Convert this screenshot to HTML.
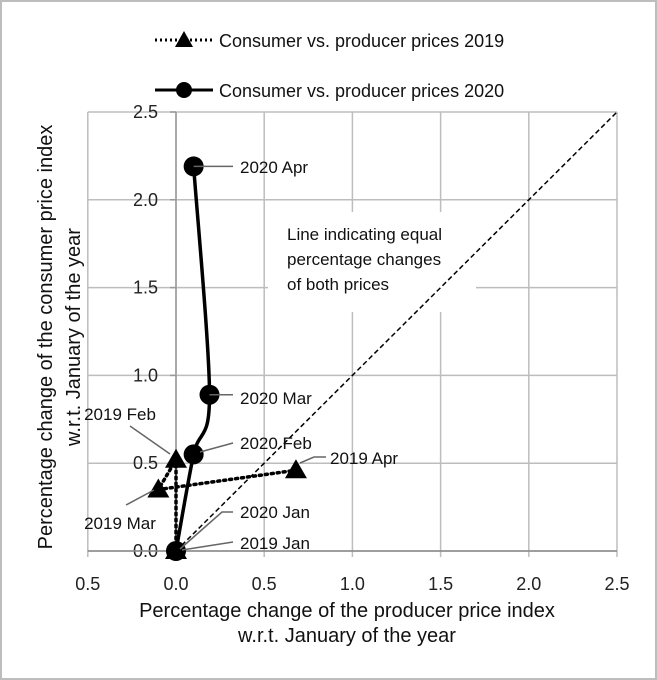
<!DOCTYPE html>
<html><head><meta charset="utf-8"><style>
body{margin:0;background:#fff}
svg{display:block;font-family:"Liberation Sans",sans-serif}
</style></head><body>
<svg id="c" width="657" height="680" viewBox="0 0 657 680">
<rect x="1" y="1" width="655" height="678" fill="#fff" stroke="#bdbdbd" stroke-width="2"/>
<g id="grid"></g>
<g id="axes"></g>
<g id="marks"></g>
<g id="labels"></g>
<g>
<g>
<line x1="155" y1="40" x2="213" y2="40" stroke="#000" stroke-width="3" stroke-dasharray="2,3"/>
<polygon points="184,31 193,47 175,47" fill="#000"/>
<text x="219" y="47" font-size="18" fill="#111">Consumer vs. producer prices 2019</text>
</g>
<g>
<line x1="155" y1="90" x2="213" y2="90" stroke="#000" stroke-width="3"/>
<circle cx="184" cy="90" r="8" fill="#000"/>
<text x="219" y="97" font-size="18" fill="#111">Consumer vs. producer prices 2020</text>
</g>
</g>
<g fill="#111" font-size="20">
<text x="347" y="617" text-anchor="middle">Percentage change of the producer price index<tspan x="347" dy="25">w.r.t. January of the year</tspan></text>
<text transform="translate(52,337) rotate(-90)" text-anchor="middle">Percentage change of the consumer price index<tspan x="0" dy="28">w.r.t. January of the year</tspan></text>
</g>
</svg>
<script>
const xTicks=[-0.5,0,0.5,1,1.5,2,2.5];
const yTicks=[0,0.5,1,1.5,2,2.5];
const tickLabels=["0.5","0.0","0.5","1.0","1.5","2.0","2.5"];
const yTickLabels=["0.0","0.5","1.0","1.5","2.0","2.5"];
const months=["Jan","Feb","Mar","Apr"];
const x2019=[0,0,-0.1,0.68];
const y2019=[0,0.52,0.35,0.46];
const x2020=[0,0.1,0.19,0.1];
const y2020=[0,0.55,0.89,2.19];
const X=v=>176+v*176.4, Y=v=>551-v*175.6;
const NS="http://www.w3.org/2000/svg";
function mk(p,t,a){const e=document.createElementNS(NS,t);for(const k in a)e.setAttribute(k,a[k]);p.appendChild(e);return e;}
const g=document.getElementById('grid'),ax=document.getElementById('axes'),m=document.getElementById('marks'),lb=document.getElementById('labels');
xTicks.forEach((v,i)=>{
 const l=mk(g,'line',{x1:X(v),x2:X(v),y1:Y(2.5),y2:Y(0)+6,stroke:'#bdbdbd','stroke-width':1.5});
 
 
 const t=mk(ax,'text',{x:X(v),y:590,'text-anchor':'middle','font-size':18,fill:'#222'});t.textContent=tickLabels[i];
 
 
});
yTicks.forEach((v,i)=>{
 const l=mk(g,'line',{x1:X(-0.5),x2:X(2.5),y1:Y(v),y2:Y(v),stroke:'#bdbdbd','stroke-width':1.5});
 
 
 mk(ax,'line',{x1:X(0)-6,x2:X(0),y1:Y(v),y2:Y(v),stroke:'#999','stroke-width':1.5});
 const t=mk(ax,'text',{x:X(0)-18,y:Y(v)+6,'text-anchor':'end','font-size':18,fill:'#222'});t.textContent=yTickLabels[i];
 
 
});
mk(ax,'line',{x1:X(-0.5),x2:X(2.5),y1:Y(0),y2:Y(0),stroke:'#888','stroke-width':1.5});
mk(ax,'line',{x1:X(0),x2:X(0),y1:Y(2.5),y2:Y(0),stroke:'#999','stroke-width':1.5});
// annotation box
mk(g,'rect',{x:268,y:212,width:208,height:100,fill:'#fff'});
const ann=mk(lb,'text',{x:287,y:240,'font-size':17,fill:'#111'});
ann.innerHTML='Line indicating equal<tspan x="287" dy="25">percentage changes</tspan><tspan x="287" dy="25">of both prices</tspan>';


const diag=mk(m,'line',{x1:X(0),y1:Y(0),x2:X(2.5),y2:Y(2.5),stroke:'#000','stroke-width':1.5,'stroke-dasharray':'5,3'});


// 2019 dotted
const p19=mk(m,'polyline',{points:x2019.map((v,i)=>X(v)+','+Y(y2019[i])).join(' '),fill:'none',stroke:'#000','stroke-width':3.5,'stroke-dasharray':'2,4','stroke-linecap':'round'});


// 2020 smooth
const P=x2020.map((v,i)=>[X(v),Y(y2020[i])]);
let d='M'+P[0].join(',');
for(let i=0;i<P.length-1;i++){const p0=P[Math.max(0,i-1)],p1=P[i],p2=P[i+1],p3=P[Math.min(P.length-1,i+2)];
 d+=` C${p1[0]+(p2[0]-p0[0])/6},${p1[1]+(p2[1]-p0[1])/6} ${p2[0]-(p3[0]-p1[0])/6},${p2[1]-(p3[1]-p1[1])/6} ${p2[0]},${p2[1]}`;}
const p20=mk(m,'path',{d,fill:'none',stroke:'#000','stroke-width':3.5});


x2019.forEach((v,i)=>{const cx=X(v),cy=Y(y2019[i]);
 const t=mk(m,'polygon',{points:`${cx},${cy-11} ${cx+11},${cy+8} ${cx-11},${cy+8}`,fill:'#000'});
 
 });
x2020.forEach((v,i)=>{
 const c=mk(m,'circle',{cx:X(v),cy:Y(y2020[i]),r:10,fill:'#000'});
 
 });
// data labels with leaders
const lbls=[["2020 Apr",240,173,[[X(x2020[3]),Y(y2020[3])],[233,Y(y2020[3])]],'start'],
["2020 Mar",240,404,[[X(x2020[2]),Y(y2020[2])],[233,Y(y2020[2])]],'start'],
["2020 Feb",240,449,[[200,452],[233,443]],'start'],
["2019 Apr",330,464,[[300,463],[314,457],[326,457]],'start'],
["2020 Jan",240,518,[[180,549],[222,512],[233,512]],'start'],
["2019 Jan",240,549,[[182,550],[233,542]],'start'],
["2019 Feb",120,420,[[130,426],[170,454]],'middle'],
["2019 Mar",120,529,[[126,505],[154,490]],'middle']];
lbls.forEach(a=>{
 mk(lb,'polyline',{points:a[3].map(p=>p.join(',')).join(' '),fill:'none',stroke:'#666','stroke-width':1.5});
 const t=mk(lb,'text',{x:a[1],y:a[2],'font-size':17,fill:'#111','text-anchor':a[4]});t.textContent=a[0];
 
 
});
</script>
</body></html>
